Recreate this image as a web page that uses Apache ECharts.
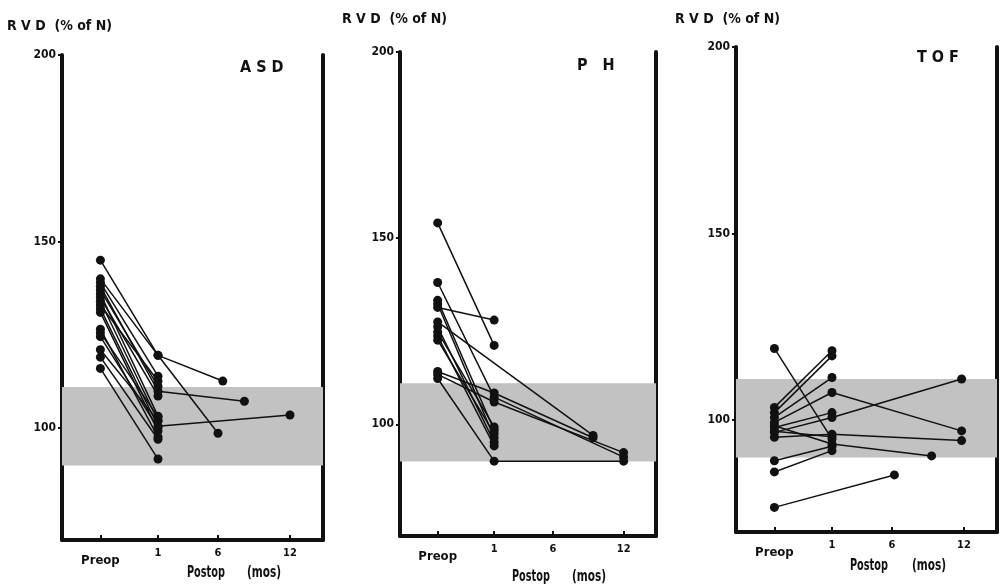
<!DOCTYPE html>
<html>
<head>
<meta charset="utf-8">
<script src="https://cdn.jsdelivr.net/npm/echarts@6/dist/echarts.min.js"></script>
<style>html,body{margin:0;padding:0;background:#fff}#c{width:1000px;height:584px}</style>
</head>
<body>
<div id="c"></div>
<script>
// ---- data ----
const PREOP_X = -3.8;              // x position of "Preop" on the months axis
const xTickValues = [PREOP_X, 1, 6, 12];
const yTickValues = [100, 150, 200];
const normalBand = [90, 111];      // shaded normal range (% of N)

// ASD
const asdPreop  = [145, 140, 139, 138, 137, 136, 135, 134, 133, 132, 131, 126.5, 125.5, 124.5, 121, 119, 116];
const asdMonth1 = [119.5, 119.5, 113.9, 109.9, 111.2, 103.2, 108.6, 101.9, 112.6, 100.5, 99.2, 97.6, 103, 100, 102, 97, 91.7];
const asdLaterIdx   = [0, 1, 3, 9];
const asdLaterMonth = [6, 6.4, 8.2, 12];
const asdLaterValue = [98.6, 112.6, 107.2, 103.5];

// PH
const phPreop  = [154.1, 138.1, 133.3, 132.3, 131.4, 127.5, 126.2, 124.8, 123.7, 122.6, 114.2, 113.4, 112.3];
const phMonth1 = [121.2, 107.3, 98.4, 96.4, 128, null, 95.2, 99.3, 94.2, 97.5, 108.4, 106, 90.1];
const phLaterIdx   = [5, 10, 1, 11, 12];
const phLaterMonth = [9.4, 9.4, 12, 12, 12];
const phLaterValue = [97, 96.4, 91.2, 92.4, 90.1];

// TOF
const tofPreop  = [119.2, 103.4, 102, 100.7, 99.4, 98, 96.7, 95.4, 98.5, 97, 89.1, 86.1, 76.6];
const tofMonth1 = [94.9, 118.6, 117.2, 111.4, 107.4, 102, 100.7, 96.2, 93.6, 95.5, 93, 91.8, null];
const tofLaterIdx   = [4, 6, 7, 8, 12];
const tofLaterMonth = [11.8, 11.8, 11.8, 9.3, 6.2];
const tofLaterValue = [97.1, 111, 94.5, 90.4, 85.3];

const panelNames = ['A S D', 'P   H', 'T O F'];
const yTitle = 'R V D  (% of N)';

// ---- layout ----
const FONT = "'Liberation Sans Narrow','DejaVu Sans Condensed','Arial Narrow',sans-serif";
const INK = '#111';
const grids = [
  {left: 62,  top: 55, width: 261, height: 485},
  {left: 400, top: 52, width: 256, height: 484},
  {left: 736, top: 47, width: 261, height: 485}
];

const xAxes = [], yAxes = [], series = [];
grids.forEach((g, i) => {
  xAxes.push({
    gridIndex: i, type: 'value', min: -7, max: 14.75,
    axisLine: {onZero: false, lineStyle: {color: INK, width: 4}},
    axisTick: {show: true, inside: true, length: 5, customValues: xTickValues, lineStyle: {color: INK, width: 2}},
    axisLabel: {
      customValues: xTickValues, margin: 8, color: INK,
      formatter: v => Math.abs(v - PREOP_X) < 0.01 ? '{p|Preop}' : '{n|' + v + '}',
      rich: {
        p: {fontFamily: FONT, fontWeight: 'bold', fontSize: 13, color: INK, padding: [6, 0, 0, 0]},
        n: {fontFamily: FONT, fontWeight: 'bold', fontSize: 11, color: INK}
      }
    },
    splitLine: {show: false}
  });
  yAxes.push({
    gridIndex: i, type: 'value', min: 70, max: 200, position: 'left',
    axisLine: {show: true, onZero: false, lineStyle: {color: INK, width: 4}},
    axisTick: {show: true, length: 4, customValues: yTickValues, lineStyle: {color: INK, width: 2}},
    axisLabel: {customValues: yTickValues, margin: 6, color: INK, fontFamily: FONT, fontWeight: 'bold', fontSize: 12},
    splitLine: {show: false}
  });
  yAxes.push({
    gridIndex: i, type: 'value', min: 70, max: 200, position: 'right',
    axisLine: {show: true, onZero: false, lineStyle: {color: INK, width: 4}},
    axisTick: {show: false}, axisLabel: {show: false}, splitLine: {show: false}
  });
  series.push({
    type: 'line', xAxisIndex: i, yAxisIndex: i * 2, z: 1, silent: true,
    data: [[PREOP_X, 100]], symbol: 'none', lineStyle: {opacity: 0},
    markArea: {silent: true, itemStyle: {color: '#c2c2c2'},
      data: [[{yAxis: normalBand[0]}, {yAxis: normalBand[1]}]]}
  });
});

function addPatients(gi, pre, m1, lIdx, lMonth, lVal) {
  pre.forEach((p, k) => {
    const pts = [[PREOP_X, p]];
    if (m1[k] != null) pts.push([1, m1[k]]);
    lIdx.forEach((li, j) => { if (li === k) pts.push([lMonth[j], lVal[j]]); });
    series.push({
      type: 'line', xAxisIndex: gi, yAxisIndex: gi * 2, z: 3, data: pts,
      symbol: 'circle', symbolSize: 9, showAllSymbol: true,
      itemStyle: {color: INK}, lineStyle: {color: INK, width: 1.5}
    });
  });
}
addPatients(0, asdPreop, asdMonth1, asdLaterIdx, asdLaterMonth, asdLaterValue);
addPatients(1, phPreop, phMonth1, phLaterIdx, phLaterMonth, phLaterValue);
addPatients(2, tofPreop, tofMonth1, tofLaterIdx, tofLaterMonth, tofLaterValue);

function txt(text, x, y, size, sx) {
  return {type: 'text', x: x, y: y, scaleX: sx || 1,
    style: {text: text, fill: INK, font: 'bold ' + size + 'px ' + FONT}};
}
const graphic = [
  txt(yTitle, 7, 19, 14), txt(yTitle, 342, 12, 14), txt(yTitle, 675, 12, 14),
  txt(panelNames[0], 240, 60, 16), txt(panelNames[1], 577, 58, 16), txt(panelNames[2], 917, 50, 16),
  txt('Postop', 187, 566, 15, 0.72), txt('(mos)', 247, 566, 15, 0.78),
  txt('Postop', 512, 570, 15, 0.72), txt('(mos)', 572, 570, 15, 0.78),
  txt('Postop', 850, 559, 15, 0.72), txt('(mos)', 912, 559, 15, 0.78)
];

const chart = echarts.init(document.getElementById('c'), null, {renderer: 'canvas'});
chart.setOption({
  animation: false,
  backgroundColor: '#fff',
  grid: grids,
  xAxis: xAxes,
  yAxis: yAxes,
  series: series,
  graphic: graphic
});
</script>
</body>
</html>
